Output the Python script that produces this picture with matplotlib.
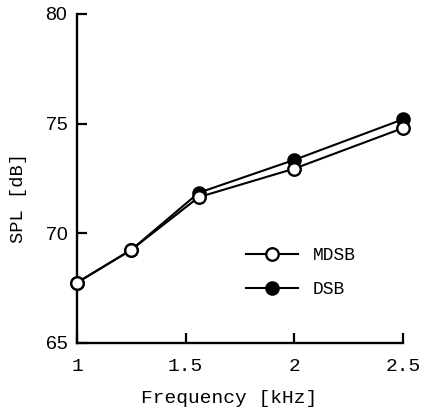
import numpy as np
import matplotlib
matplotlib.use("Agg")
import matplotlib.pyplot as plt

# data
freq = [1.0, 1.25, 1.56, 2.0, 2.5]
spl_mdsb = [67.75, 69.25, 71.65, 72.95, 74.8]
spl_dsb = [67.75, 69.25, 71.85, 73.35, 75.2]
xticks = [1, 1.5, 2, 2.5]
xticklabels = ["1", "1.5", "2", "2.5"]
yticks = [65, 70, 75, 80]

mono = "Liberation Mono"

fig = plt.figure(figsize=(4.24, 4.12), dpi=100)
ax = fig.add_axes([77 / 424, 1 - 343 / 412, 326 / 424, 329 / 412])

# DSB first so the open circles sit on top
ax.plot(freq, spl_dsb, color="black", lw=1.5, marker="o", ms=9,
        mfc="black", mec="black", mew=1.5, label="DSB", zorder=3)
ax.plot(freq, spl_mdsb, color="black", lw=1.5, marker="o", ms=9,
        mfc="white", mec="black", mew=1.7, label="MDSB", zorder=4)

ax.set_xlim(1, 2.5)
ax.set_ylim(65, 80)
ax.set_xticks(xticks)
ax.set_xticklabels(xticklabels, fontfamily=mono, fontsize=14)
ax.set_yticks(yticks)
ax.set_yticklabels([str(v) for v in yticks], fontfamily="Liberation Sans", fontsize=14)
ax.tick_params(direction="in", length=7, width=1.6, color="black")
ax.tick_params(axis="x", pad=11)
ax.tick_params(axis="y", pad=7)

for s in ["top", "right"]:
    ax.spines[s].set_visible(False)
for s in ["left", "bottom"]:
    ax.spines[s].set_linewidth(1.7)
ax.margins(0)
for art in ax.lines:
    art.set_clip_on(False)

ax.set_xlabel("Frequency [kHz]", fontfamily=mono, fontsize=14)
ax.xaxis.set_label_coords(0.468, -0.143)
ax.set_ylabel("SPL [dB]", fontfamily=mono, fontsize=13.5)
ax.yaxis.set_label_coords(-0.153, 0.44)

handles, labels = ax.get_legend_handles_labels()
leg = ax.legend(handles[::-1], labels[::-1], loc="center left",
                bbox_to_anchor=(0.49, 0.214), frameon=False, borderpad=0,
                handlelength=2.9, handletextpad=0.8, labelspacing=0.95,
                prop={"family": mono, "size": 13})

fig.savefig("out.png", dpi=100)
